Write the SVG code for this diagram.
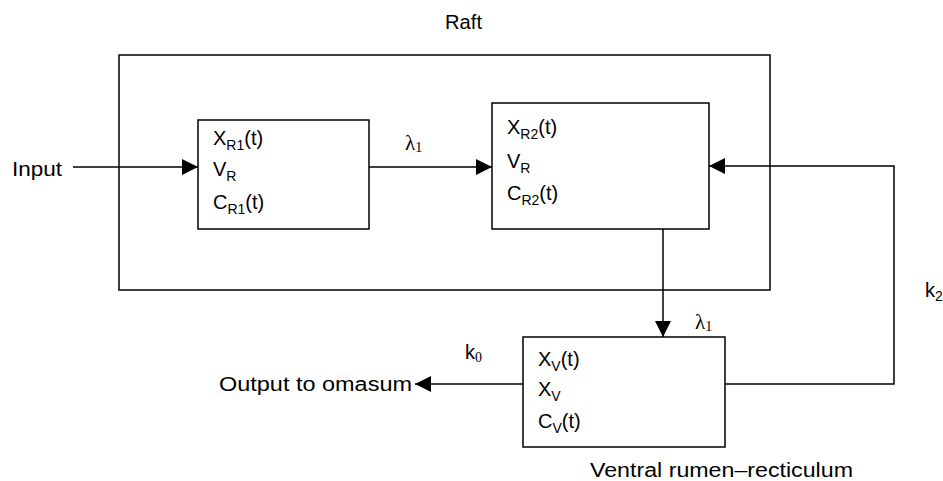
<svg xmlns="http://www.w3.org/2000/svg" width="943" height="481" viewBox="0 0 943 481">
<defs>
<style>
.box{fill:none;stroke:#000;stroke-width:1.5}
.ln{fill:none;stroke:#000;stroke-width:1.5}
.t{font-family:"Liberation Sans",Arial,sans-serif;font-size:20px;fill:#000}
.s{font-size:14px}
.g{font-family:"Liberation Serif","Times New Roman",serif;font-size:21px;fill:#000}
</style>
<marker id="ah" markerUnits="userSpaceOnUse" markerWidth="16" markerHeight="16" viewBox="0 0 16 16" refX="16" refY="8" orient="auto">
<path d="M0,0 L16,8 L0,16 Z" fill="#000"/>
</marker>
</defs>
<rect width="943" height="481" fill="#fff"/>
<g id="raft">
<rect class="box" x="119" y="55" width="651" height="235"/>
<text class="t" x="445" y="29" textLength="37" lengthAdjust="spacingAndGlyphs">Raft</text>
</g>
<g id="connectors">
<line class="ln" x1="73" y1="167" x2="198" y2="167" marker-end="url(#ah)"/>
<line class="ln" x1="369" y1="167" x2="492" y2="167" marker-end="url(#ah)"/>
<polyline class="ln" points="725,384 894,384 894,166 709,166" marker-end="url(#ah)"/>
<line class="ln" x1="663" y1="229" x2="663" y2="337" marker-end="url(#ah)"/>
<line class="ln" x1="523" y1="384" x2="415" y2="384" marker-end="url(#ah)"/>
<text class="g" x="405" y="150">λ<tspan class="s" dy="2">1</tspan></text>
<text class="g" x="695" y="329">λ<tspan class="s" dy="2">1</tspan></text>
<text class="t" x="465" y="359">k<tspan class="s" font-family="Liberation Serif, serif" dy="3">0</tspan></text>
<text class="t" x="925" y="297">k<tspan class="s" dy="4">2</tspan></text>
</g>
<g id="input">
<text class="t" x="12" y="176" textLength="50" lengthAdjust="spacingAndGlyphs">Input</text>
</g>
<g id="output">
<text class="t" x="219" y="391" textLength="193" lengthAdjust="spacingAndGlyphs">Output to omasum</text>
</g>
<g id="r1">
<rect class="box" x="198" y="120" width="171" height="109"/>
<text class="t" x="213" y="145">X<tspan class="s" dy="5">R1</tspan><tspan dy="-5">(t)</tspan></text>
<text class="t" x="213" y="176">V<tspan class="s" dy="5">R</tspan></text>
<text class="t" x="213" y="209">C<tspan class="s" dy="5">R1</tspan><tspan dy="-5">(t)</tspan></text>
</g>
<g id="r2">
<rect class="box" x="492" y="103" width="217" height="126"/>
<text class="t" x="507" y="134">X<tspan class="s" dy="5">R2</tspan><tspan dy="-5">(t)</tspan></text>
<text class="t" x="507" y="168">V<tspan class="s" dy="5">R</tspan></text>
<text class="t" x="507" y="200">C<tspan class="s" dy="5">R2</tspan><tspan dy="-5">(t)</tspan></text>
</g>
<g id="ventral">
<rect class="box" x="523" y="337" width="202" height="110"/>
<text class="t" x="538" y="366">X<tspan class="s" dy="5">V</tspan><tspan dy="-5">(t)</tspan></text>
<text class="t" x="538" y="396">X<tspan class="s" dy="5">V</tspan></text>
<text class="t" x="538" y="428">C<tspan class="s" dy="5">V</tspan><tspan dy="-5">(t)</tspan></text>
<text class="t" x="590" y="477" textLength="263" lengthAdjust="spacingAndGlyphs">Ventral rumen–recticulum</text>
</g>
</svg>
